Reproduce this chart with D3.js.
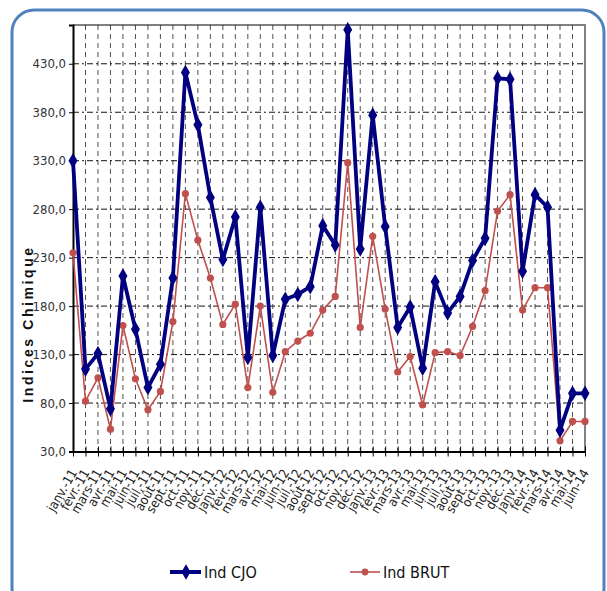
<!DOCTYPE html>
<html>
<head>
<meta charset="utf-8">
<script src="https://cdn.jsdelivr.net/npm/d3@7"></script>
<style>
  body { margin: 0; background: #fff; }
  text { font-family: "Liberation Sans Narrow", "DejaVu Sans Condensed", Arial, sans-serif; }
</style>
</head>
<body>
<div id="chart"></div>
<script>
// months (janv.-11 .. juin-14)
var months = ["janv.-11","févr.-11","mars-11","avr.-11","mai-11","juin-11","juil.-11","août-11","sept.-11","oct.-11","nov.-11","déc.-11",
  "janv.-12","févr.-12","mars-12","avr.-12","mai-12","juin-12","juil.-12","août-12","sept.-12","oct.-12","nov.-12","déc.-12",
  "janv.-13","févr.-13","mars-13","avr.-13","mai-13","juin-13","juil.-13","août-13","sept.-13","oct.-13","nov.-13","déc.-13",
  "janv.-14","févr.-14","mars-14","avr.-14","mai-14","juin-14"];

var indCJO = [330,115,131,74,211,156,96,120,209,421,367,292,
  228,272,127,282,129,187,192,200,263,243,465,239,
  377,262,158,179,116,205,173,190,227,250,415,414,
  216,295,282,52,90,90];

var indBRUT = [235,82,106,53,160,105,73,92,164,296,248,209,
  161,182,96,180,91,133,144,152,176,190,328,158,
  252,177,112,128,78,132,133,129,159,196,278,295,
  176,199,199,41,61,61];

var yTicks = [30,80,130,180,230,280,330,380,430];

var width = 607, height = 591;
var margin = {top: 25, right: 22, bottom: 139.5, left: 73};
var plotW = width - margin.left - margin.right,
    plotH = height - margin.top - margin.bottom;

var svg = d3.select("#chart")
  .append("svg")
    .attr("width", width)
    .attr("height", height);

// outer rounded frame
svg.append("rect")
  .attr("x", 12).attr("y", 10)
  .attr("width", 592).attr("height", 600)
  .attr("rx", 22).attr("ry", 22)
  .attr("fill", "none")
  .attr("stroke", "#4f81bd")
  .attr("stroke-width", 3);

var g = svg.append("g")
  .attr("transform", "translate(" + margin.left + "," + margin.top + ")");

var x = d3.scalePoint()
  .domain(months)
  .range([0, plotW]);

var y = d3.scaleLinear()
  .domain([30, 470])
  .range([plotH, 0]);

// plot border (top / right)
g.append("path")
  .attr("d", "M0,0H" + plotW + "V" + plotH)
  .attr("fill", "none")
  .attr("stroke", "#808080")
  .attr("stroke-width", 2);

// vertical dashed grid
g.selectAll(".vgrid")
  .data(months.slice(1, months.length - 1))
  .enter()
  .append("line")
    .attr("x1", function(d) { return x(d); })
    .attr("x2", function(d) { return x(d); })
    .attr("y1", 0)
    .attr("y2", plotH)
    .attr("stroke", "#222")
    .attr("stroke-width", 0.8)
    .attr("stroke-dasharray", "5,4");

// horizontal dash-dot grid
g.selectAll(".hgrid")
  .data(yTicks.slice(1))
  .enter()
  .append("line")
    .attr("x1", 0)
    .attr("x2", plotW)
    .attr("y1", function(d) { return y(d); })
    .attr("y2", function(d) { return y(d); })
    .attr("stroke", "#111")
    .attr("stroke-width", 1)
    .attr("stroke-dasharray", "6,3,2,3");

// Y axis
var yAxis = g.append("g")
  .call(d3.axisLeft(y).tickValues(yTicks).tickSize(4).tickPadding(3)
    .tickFormat(function(d) { return d3.format(".1f")(d).replace(".", ","); }));
yAxis.select(".domain").attr("stroke", "#000").attr("stroke-width", 2);
yAxis.selectAll("text")
  .attr("font-size", "13px")
  .attr("fill", "#333")
  .style("font-family", "'Liberation Sans Narrow', 'DejaVu Sans Condensed', Arial, sans-serif");

// X axis
var xAxis = g.append("g")
  .attr("transform", "translate(0," + plotH + ")")
  .call(d3.axisBottom(x).tickSizeInner(5).tickSizeOuter(0).tickPadding(4));
xAxis.select(".domain").attr("stroke", "#000").attr("stroke-width", 2);
xAxis.selectAll(".tick line")
  .attr("y1", -5)
  .attr("y2", 5)
  .attr("stroke", "#000");
xAxis.selectAll("text")
  .attr("font-size", "13px")
  .attr("fill", "#222")
  .style("font-family", "'Liberation Sans Narrow', 'DejaVu Sans Condensed', Arial, sans-serif")
  .style("text-anchor", "end")
  .attr("x", 0)
  .attr("y", 0)
  .attr("dx", 0)
  .attr("dy", 0)
  .attr("transform", "translate(4,21)rotate(-60)");

// Y axis title
svg.append("text")
  .attr("transform", "translate(33," + 324 + ")rotate(-90)")
  .attr("text-anchor", "middle")
  .attr("font-size", "14px")
  .attr("font-weight", "bold")
  .attr("letter-spacing", "2.6px")
  .style("font-family", "Arial, 'Liberation Sans', sans-serif")
  .attr("fill", "#111")
  .text("Indices Chimique");

// BRUT line
var line = function(vals) {
  return d3.line()
    .x(function(d, i) { return x(months[i]); })
    .y(function(d) { return y(d); })(vals);
};

g.append("path")
  .attr("d", line(indBRUT))
  .attr("fill", "none")
  .attr("stroke", "#c0504d")
  .attr("stroke-width", 1.6);

g.selectAll(".brut")
  .data(indBRUT)
  .enter()
  .append("circle")
    .attr("cx", function(d, i) { return x(months[i]); })
    .attr("cy", function(d) { return y(d); })
    .attr("r", 3.6)
    .attr("fill", "#c0504d");

// CJO line
g.append("path")
  .attr("d", line(indCJO))
  .attr("fill", "none")
  .attr("stroke", "#000080")
  .attr("stroke-width", 3.8)
  .attr("stroke-linejoin", "round");

var diamond = d3.symbol().type(d3.symbolDiamond).size(70);
g.selectAll(".cjo")
  .data(indCJO)
  .enter()
  .append("path")
    .attr("transform", function(d, i) { return "translate(" + x(months[i]) + "," + y(d) + ")"; })
    .attr("d", diamond)
    .attr("fill", "#000080");

// legend
var leg = svg.append("g").attr("transform", "translate(0,572)");
leg.append("line").attr("x1", 170).attr("x2", 201).attr("y1", 0).attr("y2", 0)
  .attr("stroke", "#000080").attr("stroke-width", 4);
leg.append("path").attr("transform", "translate(186,0)").attr("d", diamond).attr("fill", "#000080");
leg.append("text").attr("x", 204).attr("y", 6).attr("font-size", "16px").attr("fill", "#111").text("Ind CJO");

leg.append("line").attr("x1", 350).attr("x2", 380).attr("y1", 0).attr("y2", 0)
  .attr("stroke", "#c0504d").attr("stroke-width", 1.6);
leg.append("circle").attr("cx", 365).attr("cy", 0).attr("r", 3.4).attr("fill", "#c0504d");
leg.append("text").attr("x", 383).attr("y", 6).attr("font-size", "16px").attr("fill", "#111").text("Ind BRUT");
</script>
</body>
</html>
